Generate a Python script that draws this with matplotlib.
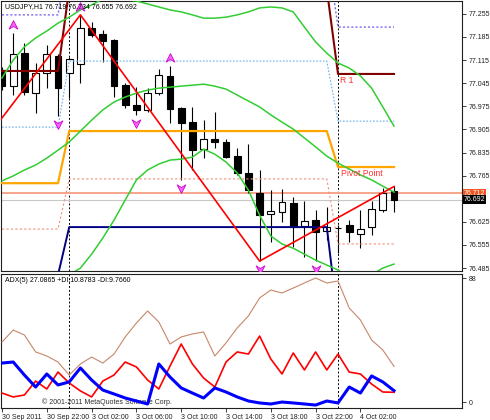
import numpy as np
import matplotlib
matplotlib.use('Agg')
import matplotlib.pyplot as plt
import matplotlib.transforms as mtransforms
from matplotlib.patches import Rectangle
from matplotlib.path import Path

plt.rcParams['font.family'] = ['Liberation Sans', 'DejaVu Sans']

# USDJPY H1, 30 Sep 18:00 .. 4 Oct 05:00
opens = [77.085, 77.036, 77.136, 77.015, 77.076, 77.127, 77.076, 77.103, 77.212, 77.194,
         77.176, 77.039, 76.979, 76.964, 77.015, 77.067, 76.970, 76.927, 76.845, 76.876,
         76.867, 76.824, 76.773, 76.712, 76.649, 76.655, 76.682, 76.612, 76.630, 76.597,
         76.606, 76.615, 76.588, 76.609, 76.661, 76.719]
highs = [77.095, 77.197, 77.167, 77.106, 77.161, 77.133, 77.124, 77.252, 77.230, 77.206,
         77.179, 77.045, 77.033, 77.030, 77.088, 77.097, 76.973, 76.973, 76.933, 76.958,
         76.876, 76.849, 76.860, 76.782, 76.721, 76.724, 76.700, 76.688, 76.661, 76.670,
         76.615, 76.630, 76.661, 76.688, 76.727, 76.734]
lows = [77.025, 77.009, 77.009, 76.955, 77.030, 76.945, 77.000, 77.045, 77.185, 77.109,
        77.003, 76.970, 76.949, 76.958, 77.009, 76.924, 76.752, 76.782, 76.818, 76.849,
        76.818, 76.767, 76.712, 76.506, 76.564, 76.624, 76.549, 76.518, 76.506, 76.570,
        76.530, 76.564, 76.545, 76.585, 76.655, 76.655]
closes = [77.036, 77.133, 77.018, 77.076, 77.133, 77.030, 77.118, 77.212, 77.191, 77.173,
          77.036, 76.979, 76.964, 77.015, 77.070, 76.967, 76.924, 76.842, 76.876, 76.867,
          76.821, 76.773, 76.721, 76.645, 76.658, 76.685, 76.609, 76.627, 76.594, 76.609,
          76.607, 76.594, 76.603, 76.664, 76.712, 76.692]
ask = 76.712

# bands
bb_upper = [77.061, 77.115, 77.155, 77.182, 77.203, 77.227, 77.245, 77.267, 77.282, 77.300,
            77.303, 77.297, 77.294, 77.285, 77.276, 77.267, 77.261, 77.252, 77.242, 77.242,
            77.245, 77.252, 77.261, 77.273, 77.276, 77.273, 77.261, 77.215, 77.170, 77.136,
            77.106, 77.091, 77.067, 77.030, 76.973, 76.915]
bb_mid = [76.749, 76.764, 76.782, 76.797, 76.818, 76.842, 76.867, 76.900, 76.933, 76.964,
          76.988, 77.003, 77.015, 77.024, 77.030, 77.033, 77.036, 77.039, 77.042, 77.036,
          77.027, 77.009, 76.991, 76.973, 76.949, 76.927, 76.906, 76.879, 76.852, 76.824,
          76.803, 76.785, 76.767, 76.752, 76.733, 76.715]
bb_lower = [76.436, 76.418, 76.409, 76.409, 76.433, 76.458, 76.464, 76.485, 76.527, 76.576,
            76.630, 76.691, 76.752, 76.782, 76.800, 76.812, 76.815, 76.821, 76.845, 76.830,
            76.806, 76.773, 76.721, 76.645, 76.582, 76.558, 76.545, 76.527, 76.509, 76.494,
            76.479, 76.455, 76.449, 76.464, 76.485, 76.497]

# zigzag
zz_bars = [-1, 7, 23, 35]
zz_prices = [76.895, 77.252, 76.506, 76.732]

# fractals
fr_up = [1, 7, 15]
fr_down = [5, 12, 16, 23, 28]

# daily pivot levels: 30 Sep, 3 Oct, 4 Oct
day_len = [6, 24, 6]
pivot = [76.742, 76.900, 76.791]
r1 = [77.082, 77.330, 77.073]
s1 = [76.464, 76.609, 76.325]
mid_r = [76.912, 77.112, 76.930]
mid_s = [76.603, 76.755, 76.558]
top_lvl = [77.252, 77.450, 77.215]

# ADX(5)
adx_main = [43.3, 51.3, 48.0, 36.7, 34.0, 30.0, 21.3, 28.7, 33.3, 29.3, 35.3, 46.7, 56.0, 64.0,
            56.7, 42.0, 46.7, 48.7, 50.0, 34.0, 42.7, 52.7, 60.7, 72.7, 78.0, 76.0, 79.3, 82.7,
            86.0, 82.7, 84.0, 66.0, 58.0, 44.7, 38.0, 27.1]
plus_di = [29.3, 30.0, 21.3, 13.3, 22.0, 14.7, 16.7, 26.0, 18.0, 11.3, 8.7, 6.0, 4.0, 2.0,
           28.7, 20.0, 12.7, 9.3, 6.0, 12.7, 10.0, 6.7, 4.0, 2.7, 2.0, 3.3, 2.7, 2.0, 1.3,
           4.0, 2.7, 13.3, 9.3, 20.7, 16.7, 10.9]
minus_di = [9.3, 6.7, 8.0, 17.3, 12.0, 23.3, 16.0, 10.7, 6.7, 17.3, 21.3, 30.0, 26.7, 18.0,
            12.0, 27.3, 42.0, 28.7, 19.3, 13.3, 30.0, 36.7, 35.3, 47.3, 32.0, 22.0, 36.0, 24.7,
            36.7, 24.7, 35.3, 23.3, 22.0, 15.3, 10.0, 9.8]

time_ticks = [0, 4, 8, 12, 16, 20, 24, 28, 32]
time_labels = ['30 Sep 2011', '30 Sep 22:00', '3 Oct 02:00', '3 Oct 06:00', '3 Oct 10:00',
               '3 Oct 14:00', '3 Oct 18:00', '3 Oct 22:00', '4 Oct 02:00']
day_breaks = [6, 30]
price_ticks = [76.485, 76.555, 76.625, 76.765, 76.835, 76.905, 76.975, 77.045, 77.115,
               77.185, 77.255]

n = len(opens)
bars = np.arange(n)
FS = 5

fig = plt.figure(figsize=(4.9, 4.2), dpi=100)
ax = fig.add_axes([1/490, 149/420, 461/490, 270/420])
ax2 = fig.add_axes([1/490, 12/420, 461/490, 134/420])

for a in (ax, ax2):
    a.set_xlim(-0.09, 41.07)
    for s in a.spines.values():
        s.set_linewidth(0.8)
        s.set_color('#202020')
    for b in day_breaks:
        a.axvline(b, color='black', lw=0.7, ls=(0, (2, 2)), zorder=1)

ax.set_ylim(76.476, 77.294)

# bid / ask lines
ax.axhline(ask, color='#F6A58A', lw=1.4, zorder=1)
ax.axhline(closes[-1], color='#C8C8C8', lw=0.8, zorder=1)

# candles
for i in range(n):
    o, h, l, c = opens[i], highs[i], lows[i], closes[i]
    ax.vlines(i, l, h, color='black', lw=0.8, zorder=2)
    body = max(abs(c - o), 0.0009)
    ax.add_patch(Rectangle((i - 0.3, min(o, c)), 0.6, body,
                           facecolor='black' if c < o else 'white',
                           edgecolor='black', lw=0.8, zorder=3))

# pivot lines per day
def per_bar(levels):
    return np.repeat(levels, day_len)

ax.plot(bars, per_bar(top_lvl), color='#7B68EE', lw=1.0, ls=(0, (1.5, 1.5)), zorder=4)
ax.plot(bars, per_bar(mid_r), color='#6AAEE8', lw=0.8, ls=(0, (1.5, 1.5)), zorder=4)
ax.plot(bars, per_bar(mid_s), color='#F28C7C', lw=0.8, ls=(0, (2, 2)), zorder=4)
ax.plot(bars, per_bar(r1), color='#800000', lw=1.5, zorder=4)
ax.plot(bars, per_bar(pivot), color='#FFA500', lw=1.6, zorder=4)
ax.plot(bars, per_bar(s1), color='#000080', lw=1.4, zorder=4)

# bands
for band in (bb_upper, bb_mid, bb_lower):
    ax.plot(bars, band, color='#32CD32', lw=1.1, zorder=5)

# zigzag
ax.plot(zz_bars, zz_prices, color='#FF0000', lw=1.2, zorder=6)

# fractals
up_arrow = Path([(0, 1), (0.9, -0.75), (0, -0.2), (-0.9, -0.75), (0, 1)],
                [Path.MOVETO, Path.LINETO, Path.LINETO, Path.LINETO, Path.CLOSEPOLY])
down_arrow = Path([(0, -1), (0.9, 0.75), (0, 0.2), (-0.9, 0.75), (0, -1)],
                  [Path.MOVETO, Path.LINETO, Path.LINETO, Path.LINETO, Path.CLOSEPOLY])
ax.plot(fr_up, np.array(highs)[fr_up] + 0.025, marker=up_arrow, ms=7, ls='none',
        mfc='#F26AF2', mec='#D000D0', mew=0.6, zorder=7)
ax.plot(fr_down, np.array(lows)[fr_down] - 0.025, marker=down_arrow, ms=7, ls='none',
        mfc='#F26AF2', mec='#D000D0', mew=0.6, zorder=7)

# labels on the chart
ax.text(30.2, r1[2] - 0.006, 'R 1', color='#FF3030', fontsize=6.2, va='top', ha='left', zorder=8)
ax.text(30.3, pivot[2] - 0.006, 'Pivot Point', color='#FF3030', fontsize=6.2, va='top',
        ha='left', zorder=8)
ax.text(0.008, 0.978, 'USDJPY,H1 %.3f %.3f %.3f %.3f' % (opens[-1], highs[-1], lows[-1], closes[-1]),
        transform=ax.transAxes, fontsize=FS, va='center', ha='left', zorder=9)

# price axis
ax.set_xticks([])
ax.yaxis.tick_right()
ax.set_yticks(price_ticks)
ax.set_yticklabels(['%.3f' % p for p in price_ticks])
ax.tick_params(axis='y', labelsize=FS, length=3, width=0.6, pad=1.5, colors='#202020')

trans = mtransforms.blended_transform_factory(ax.transAxes, ax.transData)
ax.text(1.004, ask, '%.3f' % ask, transform=trans, fontsize=FS, color='white', va='center',
        ha='left', bbox=dict(boxstyle='square,pad=0.12', fc='#F0561E', ec='none'), clip_on=False)
ax.text(1.004, closes[-1], '%.3f' % closes[-1], transform=trans, fontsize=FS, color='white',
        va='center', ha='left', bbox=dict(boxstyle='square,pad=0.12', fc='black', ec='none'),
        clip_on=False)

# ADX window
ax2.set_ylim(-0.67, 88.67)
ax2.plot(bars, adx_main, color='#C8866A', lw=0.8, zorder=3)
ax2.plot(bars, minus_di, color='#FF0000', lw=1.2, zorder=4)
ax2.plot(bars, plus_di, color='#0000FF', lw=2.2, zorder=5)
ax2.text(0.008, 0.955, 'ADX(5) 27.0865 +DI:10.8783 -DI:9.7660', transform=ax2.transAxes,
         fontsize=FS, va='center', ha='left')
ax2.text(0.089, 0.045, '\u00a9 2001-2011 MetaQuotes Software Corp.', transform=ax2.transAxes,
         fontsize=FS, va='center', ha='left', color='#303030', zorder=2)

ax2.yaxis.tick_right()
ax2.set_yticks([3.3, 86.0])
ax2.set_yticklabels(['0', '88'])
ax2.tick_params(axis='y', labelsize=FS, length=3, width=0.6, pad=1.5, colors='#202020')
ax2.set_xticks(time_ticks)
ax2.set_xticklabels(time_labels, ha='left')
ax2.tick_params(axis='x', labelsize=FS, length=3, width=0.6, pad=1.5, colors='#202020')

fig.savefig('out.png', dpi=100)
